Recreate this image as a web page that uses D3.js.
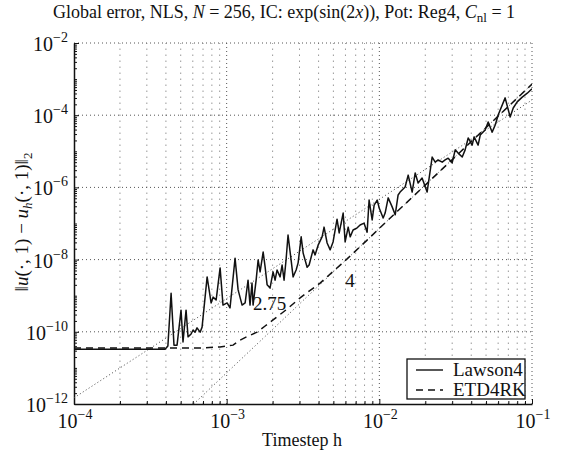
<!DOCTYPE html>
<html>
<head>
<meta charset="utf-8">
<script src="https://cdn.jsdelivr.net/npm/d3@7"></script>
<style>
  body { margin: 0; background: #fff; }
</style>
</head>
<body>
<div id="chart"></div>
<script>
// Values (log10 of timestep h and of the error)
const lawsonLogH = [
  -4, -3.404, -3.385, -3.364, -3.345, -3.325, -3.299, -3.286, -3.266, -3.253,
  -3.233, -3.220, -3.207, -3.194, -3.174, -3.161, -3.128, -3.102, -3.089, -3.069,
  -3.043, -3.024, -2.997, -2.978, -2.945, -2.925, -2.899, -2.879, -2.860, -2.847,
  -2.834, -2.827, -2.807, -2.794, -2.781, -2.761, -2.748, -2.735, -2.716, -2.696,
  -2.683, -2.670, -2.650, -2.637, -2.624, -2.611, -2.598, -2.578, -2.565, -2.545,
  -2.532, -2.512, -2.499, -2.473, -2.460, -2.434, -2.421, -2.401, -2.375, -2.362,
  -2.342, -2.322, -2.303, -2.277, -2.263, -2.237, -2.224, -2.204, -2.191, -2.172,
  -2.145, -2.126, -2.100, -2.080, -2.067, -2.047, -2.034, -2.014, -2.001, -1.975,
  -1.962, -1.942, -1.916, -1.896, -1.877, -1.864, -1.831, -1.811, -1.785, -1.765,
  -1.746, -1.720, -1.687, -1.654, -1.634, -1.615, -1.588, -1.569, -1.549, -1.523,
  -1.503, -1.484, -1.457, -1.438, -1.418, -1.392, -1.379, -1.353, -1.339, -1.307,
  -1.287, -1.261, -1.241, -1.221, -1.176, -1.143, -1.123, -1.097, -1.064, -1.031,
  -1.0
];
const lawsonLogErr = [
  -10.48, -10.48, -10.39, -8.93, -10.37, -10.37, -9.40, -10.28, -9.40, -10.14,
  -10.06, -9.95, -10.01, -9.89, -10.01, -9.87, -8.48, -9.20, -9.04, -9.12,
  -8.23, -9.26, -9.20, -9.34, -7.96, -8.84, -9.26, -9.20, -8.57, -9.26,
  -8.65, -9.26, -8.57, -8.01, -8.34, -7.79, -8.21, -8.70, -8.79, -8.34,
  -8.57, -8.29, -8.48, -8.15, -8.57, -8.01, -7.32, -8.01, -8.48, -8.29,
  -8.09, -7.37, -7.82, -8.21, -8.15, -7.73, -7.87, -7.60, -7.37, -7.10,
  -7.54, -7.73, -7.51, -6.88, -7.26, -6.71, -7.51, -7.10, -7.37, -7.18,
  -7.12, -7.04, -6.99, -7.24, -6.35, -6.90, -6.49, -6.35, -6.57, -6.85,
  -6.71, -6.29, -6.54, -6.76, -6.21, -6.13, -5.99, -5.66, -6.13, -5.60,
  -5.88, -5.74, -6.13, -5.16, -5.30, -5.24, -5.30, -5.24, -5.19, -5.32,
  -4.96, -5.05, -5.16, -4.96, -4.63, -4.83, -4.60, -4.83, -4.55, -4.41,
  -4.19, -4.47, -4.27, -3.99, -3.52, -4.05, -3.80, -3.63, -3.50, -3.39,
  -3.27
];
const etdLogH = [
  -4, -3.502, -3.174, -3.043, -2.958, -2.912, -2.860, -2.801, -2.748, -2.696,
  -2.604, -2.519, -2.388, -2.211, -2.080, -1.949, -1.733, -1.470, -1.208, -1.0
];
const etdLogErr = [
  -10.45, -10.45, -10.45, -10.42, -10.37, -10.23, -10.12, -10.01, -9.84, -9.67,
  -9.37, -9.06, -8.65, -7.98, -7.46, -6.93, -6.07, -5.02, -3.97, -3.14
];

// reference slope lines (two end points each)
const refA_H = [1e-4, 1e-1];
const refA_Err = [1.48e-12, 2.63e-4];
const refB_H = [6.08e-4, 1e-1];
const refB_Err = [1e-12, 7.3e-4];

const slopeLabels = ["2.75", "4"];
const slopeLabelH = [1.49e-3, 5.97e-3];
const slopeLabelErr = [3.98e-10, 1.74e-9];

const xMajor = [-4, -3, -2, -1];
const yMajor = [-12, -10, -8, -6, -4, -2];
const seriesNames = ["Lawson4", "ETD4RK"];

const W = 581, H = 453;
const pLeft = 74, pRight = 532, pTop = 43, pBottom = 404;
const FONT = "'Liberation Serif', 'Liberation Sans', serif";

const svg = d3.select("#chart").append("svg")
  .attr("width", W).attr("height", H)
  .style("font-family", FONT);

const x = d3.scaleLog().domain([1e-4, 1e-1]).range([pLeft, pRight]);
const y = d3.scaleLog().domain([1e-12, 1e-2]).range([pBottom, pTop]);

const lawson = lawsonLogH.map((v, i) => ({ h: 10 ** v, e: 10 ** lawsonLogErr[i] }));
const etd = etdLogH.map((v, i) => ({ h: 10 ** v, e: 10 ** etdLogErr[i] }));
const refA = refA_H.map((h, i) => ({ h, e: refA_Err[i] }));
const refB = refB_H.map((h, i) => ({ h, e: refB_Err[i] }));

// minor positions
const xMinor = [];
for (let k = -4; k < -1; k++) for (let m = 2; m <= 9; m++) xMinor.push(m * 10 ** k);
const yMinor = [];
for (let k = -12; k < -2; k++) for (let m = 1; m <= 9; m++) {
  if (!(m === 1 && k % 2 === 0)) yMinor.push(m * 10 ** k);
}

svg.append("defs").append("clipPath").attr("id", "clip")
  .append("rect").attr("x", pLeft).attr("y", pTop)
  .attr("width", pRight - pLeft).attr("height", pBottom - pTop);

// grid
const grid = svg.append("g");
grid.selectAll(".vmin").data(xMinor).enter().append("line")
  .attr("x1", (d) => x(d)).attr("x2", (d) => x(d))
  .attr("y1", pBottom).attr("y2", pTop)
  .attr("stroke", "#999").attr("stroke-width", 1)
  .attr("stroke-dasharray", "1.5,4.5");
grid.selectAll(".vmaj").data(xMajor.slice(1)).enter().append("line")
  .attr("x1", (d) => x(10 ** d)).attr("x2", (d) => x(10 ** d))
  .attr("y1", pBottom).attr("y2", pTop)
  .attr("stroke", "#555").attr("stroke-width", 1)
  .attr("stroke-dasharray", "1,3");
grid.selectAll(".hmaj").data(yMajor.slice(1)).enter().append("line")
  .attr("x1", pLeft).attr("x2", pRight)
  .attr("y1", (d) => y(10 ** d)).attr("y2", (d) => y(10 ** d))
  .attr("stroke", "#555").attr("stroke-width", 1)
  .attr("stroke-dasharray", "1,3");

// axes
const xAxisMinor = svg.append("g").attr("transform", `translate(0,${pBottom})`)
  .call(d3.axisBottom(x).tickValues(xMinor).tickSize(-3).tickSizeOuter(0).tickFormat(""));
const xAxis = svg.append("g").attr("transform", `translate(0,${pBottom})`)
  .call(d3.axisBottom(x).tickValues(xMajor.map((d) => 10 ** d)).tickSize(-5).tickSizeOuter(0).tickFormat(""));
const yAxisMinor = svg.append("g").attr("transform", `translate(${pLeft},0)`)
  .call(d3.axisLeft(y).tickValues(yMinor).tickSize(-3).tickSizeOuter(0).tickFormat(""));
const yAxis = svg.append("g").attr("transform", `translate(${pLeft},0)`)
  .call(d3.axisLeft(y).tickValues(yMajor.map((d) => 10 ** d)).tickSize(-5).tickSizeOuter(0).tickFormat(""));

[xAxisMinor, yAxisMinor].forEach((g) => g.select(".domain").remove());
[xAxis, yAxis, xAxisMinor, yAxisMinor].forEach((g) => {
  g.selectAll(".tick line").attr("stroke", "#111").attr("stroke-width", 1);
  g.select(".domain").attr("stroke", "#111").attr("stroke-width", 1.5);
});

const addText = (parent) => parent.append("text")
  .style("font-family", FONT).attr("fill", "#111");

// tick labels 10^k
const powLabel = (sel, k) => {
  sel.append("tspan").attr("font-size", 20).text("10");
  sel.append("tspan").attr("font-size", 14).attr("dy", -9).text("\u2212" + Math.abs(k));
};
xMajor.forEach((k) => {
  const t = addText(svg).attr("x", x(10 ** k) + 1).attr("y", 428)
    .attr("text-anchor", "middle");
  powLabel(t, k);
});
yMajor.forEach((k) => {
  const t = addText(svg).attr("x", 68).attr("y", y(10 ** k) + 8)
    .attr("text-anchor", "end");
  powLabel(t, k);
});

// reference lines and series
const line = d3.line().x((d) => x(d.h)).y((d) => y(d.e));
const plot = svg.append("g").attr("clip-path", "url(#clip)");

[refA, refB].forEach((r) => {
  plot.append("path").datum(r).attr("d", line)
    .attr("fill", "none").attr("stroke", "#444").attr("stroke-width", 1)
    .attr("stroke-dasharray", "1,2.5");
});
plot.append("path").datum(etd).attr("d", line)
  .attr("fill", "none").attr("stroke", "#111").attr("stroke-width", 1.5)
  .attr("stroke-dasharray", "7,5");
plot.append("path").datum(lawson).attr("d", line)
  .attr("fill", "none").attr("stroke", "#111").attr("stroke-width", 1.5)
  .attr("stroke-linejoin", "round");

slopeLabels.forEach((s, i) => {
  addText(svg).attr("x", x(slopeLabelH[i])).attr("y", y(slopeLabelErr[i]))
    .attr("font-size", 19).text(s);
});

// legend
const lg = svg.append("g");
lg.append("rect").attr("x", 407).attr("y", 359).attr("width", 118).attr("height", 40)
  .attr("fill", "#fff").attr("stroke", "#111").attr("stroke-width", 1.3);
seriesNames.forEach((name, i) => {
  const yy = 370 + i * 20;
  lg.append("line").attr("x1", 416).attr("x2", 443).attr("y1", yy).attr("y2", yy)
    .attr("stroke", "#111").attr("stroke-width", 1.4)
    .attr("stroke-dasharray", i === 1 ? "7,5" : null);
  addText(lg).attr("x", 453).attr("y", yy + 6).attr("font-size", 19).text(name);
});

// title
const title = addText(svg).attr("x", 284).attr("y", 18)
  .attr("text-anchor", "middle").attr("font-size", 18);
title.append("tspan").text("Global error, NLS, ");
title.append("tspan").attr("font-style", "italic").text("N");
title.append("tspan").text(" = 256, IC: exp(sin(2");
title.append("tspan").attr("font-style", "italic").text("x");
title.append("tspan").text(")), Pot: Reg4, ");
title.append("tspan").attr("font-style", "italic").text("C");
title.append("tspan").attr("font-size", 13).attr("dy", 4).text("nl");
title.append("tspan").attr("dy", -4).text(" = 1");

// axis labels
addText(svg).attr("x", 302).attr("y", 446).attr("text-anchor", "middle")
  .attr("font-size", 18).text("Timestep h");

const yl = addText(svg).attr("transform", "translate(28,222) rotate(-90)")
  .attr("text-anchor", "middle").attr("font-size", 19);
yl.append("tspan").text("\u2016");
yl.append("tspan").attr("font-style", "italic").text("u");
yl.append("tspan").text("(\u00b7, 1) \u2212 ");
yl.append("tspan").attr("font-style", "italic").text("u");
yl.append("tspan").attr("font-style", "italic").attr("font-size", 13).attr("dy", 4).text("h");
yl.append("tspan").attr("dy", -4).text("(\u00b7, 1)\u2016");
yl.append("tspan").attr("font-size", 13).attr("dy", 4).text("2");
</script>
</body>
</html>
